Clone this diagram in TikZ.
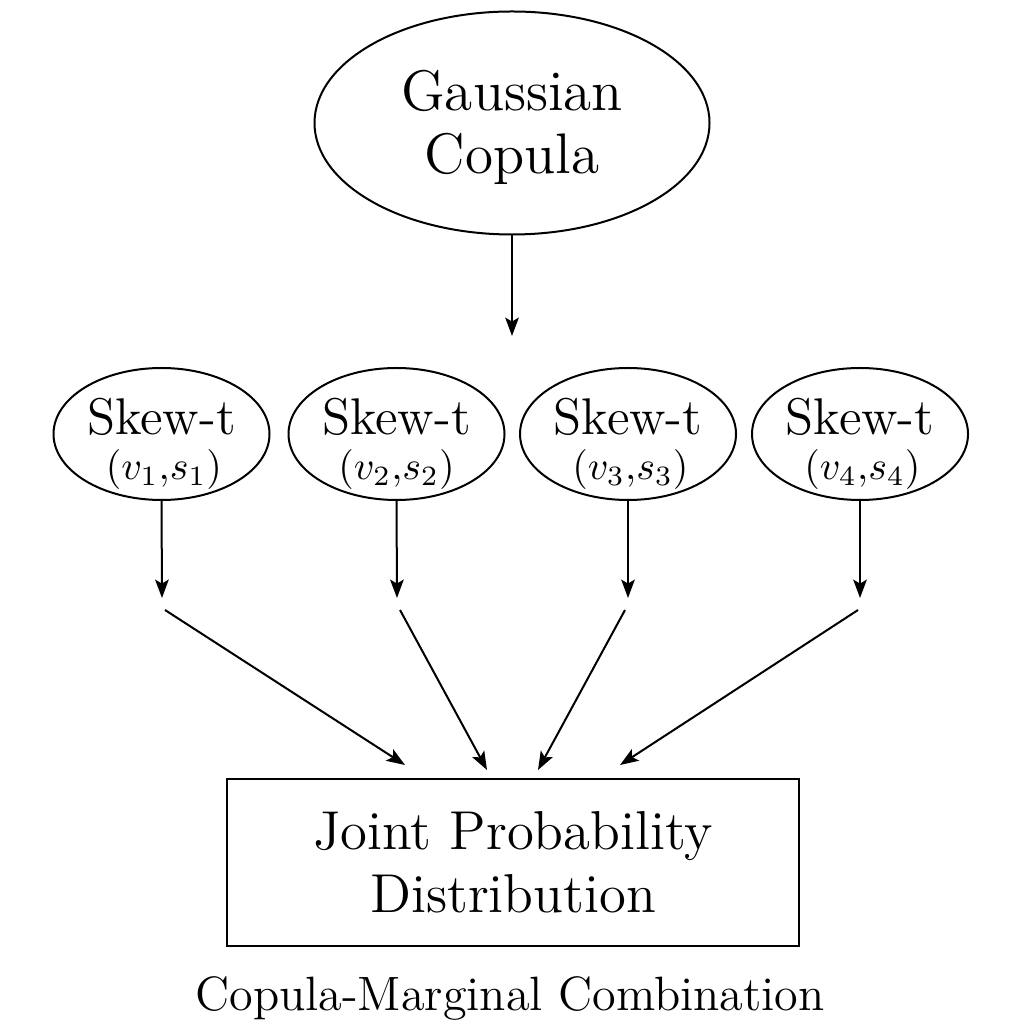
\documentclass[tikz,border=0pt]{standalone}
\usetikzlibrary{shapes.geometric,arrows.meta}
\begin{document}
\begin{tikzpicture}[x=0.25pt,y=-0.25pt,
  ell/.style={ellipse,draw,line width=0.5pt,inner sep=0pt,align=center},
  skew/.style={ell,inner ysep=-3pt,minimum width=54pt,minimum height=33pt,font=\fontsize{12.9}{11.25}\selectfont},
  arr/.style={line width=0.5pt,-{Stealth[length=4.6pt,width=3.4pt,inset=1pt]}}]
\useasboundingbox (0,0) rectangle (1024,1024);
\node[ell,minimum width=98.75pt,minimum height=55.75pt,font=\fontsize{14.3}{15.75}\selectfont] (g) at (512,123) {\rule{0pt}{12.4pt}Gaussian\\Copula};
\coordinate (gt) at (512,336);
\draw[arr] (g.south) -- (gt);

\newcommand\mysmall{\fontsize{9.6}{11.25}\selectfont}
\newcommand\topstrut{\rule{0pt}{14pt}}
\node[skew] (s1) at (161.5,434) {\topstrut Skew-t\\{\mysmall\hspace*{1.2pt}$(v_1{,}s_1)$}};
\node[skew] (s2) at (396.5,434) {\topstrut Skew-t\\{\mysmall$(v_2{,}s_2)$}};
\node[skew] (s3) at (628,434) {\topstrut Skew-t\\{\mysmall\hspace*{1.2pt}$(v_3{,}s_3)$}};
\node[skew] (s4) at (860,434) {\topstrut Skew-t\\{\mysmall\hspace*{1.2pt}$(v_4{,}s_4)$}};

\coordinate (e1) at (162,598);
\coordinate (e2) at (397,598);
\coordinate (e3) at (628,598);
\coordinate (e4) at (860,598);
\draw[arr] (s1.south) -- (e1);
\draw[arr] (s2.south) -- (e2);
\draw[arr] (s3.south) -- (e3);
\draw[arr] (s4.south) -- (e4);

\coordinate (b1) at (165,610);
\coordinate (b2) at (400,610);
\coordinate (b3) at (625,610);
\coordinate (b4) at (858,610);
\coordinate (t1) at (405,765);
\coordinate (t2) at (487,770);
\coordinate (t3) at (538,770);
\coordinate (t4) at (620,765);
\draw[arr] (b1) -- (t1);
\draw[arr] (b2) -- (t2);
\draw[arr] (b3) -- (t3);
\draw[arr] (b4) -- (t4);

\node[draw,line width=0.5pt,minimum width=143pt,minimum height=41.75pt,inner sep=0pt,align=center,font=\fontsize{13.7}{15.75}\selectfont] (jpd) at (513,862.5) {Joint Probability\\Distribution};
\node[font=\fontsize{12.05}{14}\selectfont] (cap) at (510,998) {Copula-Marginal Combination};
\end{tikzpicture}
\end{document}
